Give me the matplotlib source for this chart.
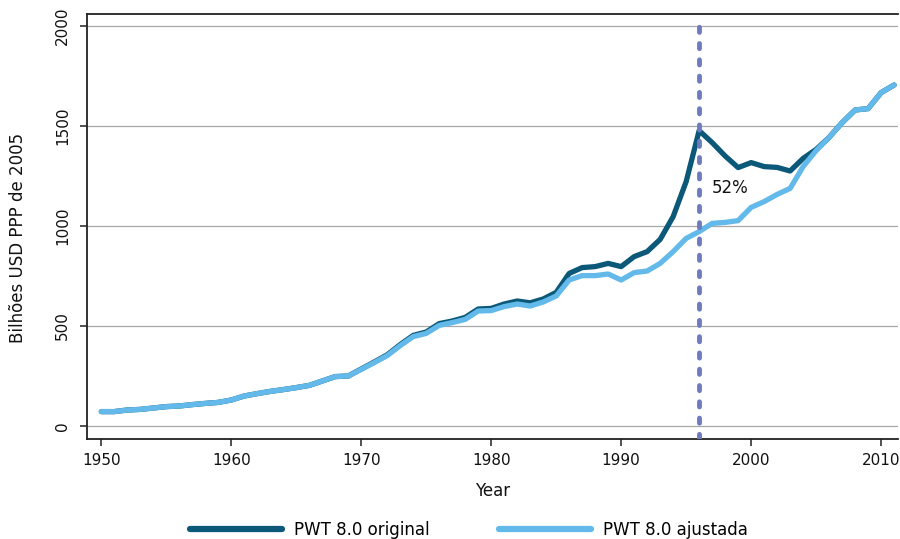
import matplotlib
matplotlib.use("Agg")
import matplotlib.pyplot as plt

plt.rcParams['font.family'] = ['DejaVu Sans']

years = list(range(1950, 2012))

ajustada = [72, 72, 80, 83, 90, 97, 100, 107, 113, 118,
            130, 150, 162, 173, 182, 192, 203, 225, 247, 250,
            283, 317, 352, 402, 447, 463, 503, 517, 533, 575,
            577, 597, 610, 600, 620, 650, 730, 752, 752, 760,
            730, 767, 775, 813, 872, 938, 972, 1013, 1018, 1027,
            1093, 1122, 1158, 1188, 1297, 1377, 1443, 1517, 1580, 1587,
            1667, 1705]

original = [72, 72, 80, 83, 90, 97, 100, 107, 113, 118,
            130, 150, 162, 173, 182, 192, 203, 225, 247, 250,
            285, 320, 356, 407, 453, 470, 512, 525, 543, 585,
            588, 610, 625, 616, 635, 668, 763, 792, 797, 813,
            797, 847, 872, 933, 1047, 1222, 1477, 1417, 1350, 1292,
            1317, 1297, 1293, 1275, 1338, 1383, 1443, 1517, 1580, 1587,
            1667, 1705]

marker_year = 1996
annotation = "52%"
y_ticks = [0, 500, 1000, 1500, 2000]
x_ticks = [1950, 1960, 1970, 1980, 1990, 2000, 2010]

dark = "#0b5878"
light = "#63b9e9"
dashcol = "#6f7bbf"

fig = plt.figure(figsize=(9, 5.39), dpi=100)
ax = fig.add_axes([87/900, 1-439/539, (898-87)/900, (439-14)/539])

ax.plot(years, original, color=dark, lw=3.8, solid_capstyle='round', solid_joinstyle='round',
        label="PWT 8.0 original", zorder=3)
ax.plot(years, ajustada, color=light, lw=3.8, solid_capstyle='round', solid_joinstyle='round',
        label="PWT 8.0 ajustada", zorder=4)

ax.axvline(marker_year, ymin=0.0, ymax=0.985, color=dashcol, lw=3.5,
           linestyle=(0, (1.05, 2.3)), dash_capstyle='round', zorder=5)

ax.text(1996.95, 1190, annotation, fontsize=12, ha='left', va='center', color='#111111')

ax.set_xlim(1948.9, 2011.3)
ax.set_ylim(-65, 2060)
ax.set_yticks(y_ticks)
ax.set_xticks(x_ticks)
ax.grid(axis='y', color='#a8a8a8', lw=0.9)
ax.grid(axis='x', visible=False)
ax.set_axisbelow(True)

for s in ['left', 'bottom', 'top']:
    ax.spines[s].set_color('#222222')
    ax.spines[s].set_linewidth(1.3)
ax.spines['right'].set_visible(False)

ax.tick_params(axis='both', direction='out', length=5, width=1.1, color='#222222',
               labelsize=11, labelcolor='#111111')
ax.tick_params(axis='x', pad=5)
plt.setp(ax.get_yticklabels(), rotation=90, va='center', ha='center')
ax.tick_params(axis='y', pad=12.5)

ax.set_xlabel("Year", fontsize=12, color='#111111', labelpad=10)
fig.text(18/900, 1-238/539, "Bilhões USD PPP de 2005", fontsize=12, color='#111111',
         rotation=90, ha='center', va='center')

handles, labels = ax.get_legend_handles_labels()
leg = fig.legend(handles, labels, loc='center', bbox_to_anchor=(0.521, 1-530/539), ncol=2,
                 frameon=False, fontsize=12, handlelength=5.5, handletextpad=0.72,
                 columnspacing=4.2)
for line in leg.get_lines():
    line.set_linewidth(4.5)
    line.set_solid_capstyle('round')

fig.savefig("out.png", dpi=100)
